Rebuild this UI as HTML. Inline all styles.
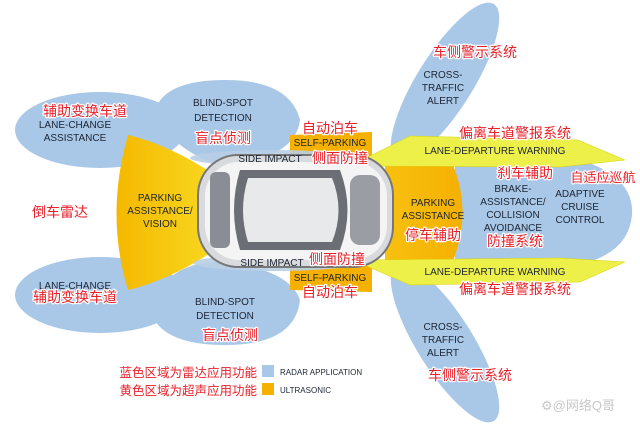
<!DOCTYPE html>
<html><head><meta charset="utf-8"><style>
body{margin:0;background:#fff}
svg{display:block}
.e{font-family:"Liberation Sans",sans-serif;font-size:10px;fill:#1c2433;text-anchor:middle}
.c{font-family:"Liberation Sans","Noto Sans CJK SC",sans-serif;font-size:14px;fill:#e8202a;text-anchor:middle;stroke:#fff;stroke-width:2.5px;paint-order:stroke;stroke-linejoin:round}
</style></head><body>
<svg width="640" height="427" viewBox="0 0 640 427">
<defs>
<linearGradient id="y" x1="0" x2="1"><stop offset="0" stop-color="#f5b800"/><stop offset="1" stop-color="#f8d820"/></linearGradient>
<linearGradient id="y2" x1="0" x2="1"><stop offset="0" stop-color="#f8c010"/><stop offset="1" stop-color="#f5b000"/></linearGradient>
</defs>
<g fill="#a9c8e8">
<ellipse cx="445" cy="82" rx="92" ry="28" transform="rotate(-58 445 82)"/>
<ellipse cx="445" cy="343" rx="92" ry="28" transform="rotate(58 445 343)"/>
<ellipse cx="100" cy="130" rx="85" ry="38"/>
<ellipse cx="100" cy="295" rx="85" ry="38"/>
<path d="M155 110 Q165 80 225 80 Q290 80 300 120 Q295 160 220 165 Q170 150 155 110Z"/>
<path d="M150 310 Q165 260 225 262 Q290 270 300 300 Q295 345 225 345 Q160 345 150 310Z"/>
<path d="M455 160 L560 155 Q635 170 632 215 Q628 260 560 268 L455 262Z"/>
</g>
<path d="M128 135 Q170 145 215 175 L215 250 Q170 280 128 290 Q105 215 128 135Z" fill="url(#y)"/>
<path d="M385 165 L450 158 Q475 212 450 268 L385 262Z" fill="url(#y2)"/>
<path d="M290 135 L372 132 L372 168 L290 165Z" fill="#f5b000"/>
<path d="M290 262 L372 258 L372 292 L290 290Z" fill="#f5b000"/>
<g fill="#eef04a" stroke="#d8d000" stroke-width="0.5">
<path d="M362 160 L410 136 L578 140 L625 160 L560 167 L362 166Z"/>
<path d="M362 264 L410 285 L580 282 L625 262 L560 258 L362 260Z"/>
</g>
<g fill="#b9cfe6" opacity="0.9">
<ellipse cx="272" cy="158" rx="82" ry="8"/>
<ellipse cx="275" cy="263" rx="82" ry="8"/>
</g>
<g>
<rect x="198" y="155" width="195" height="112" rx="40" fill="#d8dadd" stroke="#777" stroke-width="2"/>
<rect x="205" y="162" width="182" height="98" rx="34" fill="#f4f4f5"/>
<path d="M240 170 L340 170 Q355 210 340 250 L240 250 Q228 210 240 170Z" fill="#6b6f75"/>
<path d="M248 178 L332 178 Q345 210 332 242 L248 242 Q238 210 248 178Z" fill="#e8e9ea"/>
<rect x="210" y="172" width="20" height="76" rx="6" fill="#8a8e94"/>
<rect x="350" y="175" width="30" height="70" rx="10" fill="#9a9ea4"/>
</g>
<g class="e">
<text x="443" y="78">CROSS-</text><text x="443" y="91">TRAFFIC</text><text x="443" y="104">ALERT</text>
<text x="75" y="128">LANE-CHANGE</text><text x="75" y="141">ASSISTANCE</text>
<text x="223" y="106">BLIND-SPOT</text><text x="223" y="121">DETECTION</text>
<text x="330" y="146">SELF-PARKING</text>
<text x="270" y="162">SIDE IMPACT</text>
<text x="495" y="154">LANE-DEPARTURE WARNING</text>
<text x="513" y="192">BRAKE-</text><text x="513" y="205">ASSISTANCE/</text><text x="513" y="218">COLLISION</text><text x="513" y="231">AVOIDANCE</text>
<text x="580" y="197">ADAPTIVE</text><text x="580" y="210">CRUISE</text><text x="580" y="223">CONTROL</text>
<text x="433" y="206">PARKING</text><text x="433" y="219">ASSISTANCE</text>
<text x="160" y="201">PARKING</text><text x="160" y="214">ASSISTANCE/</text><text x="160" y="227">VISION</text>
<text x="272" y="266">SIDE IMPACT</text>
<text x="330" y="281">SELF-PARKING</text>
<text x="495" y="275">LANE-DEPARTURE WARNING</text>
<text x="75" y="289">LANE-CHANGE</text>
<text x="225" y="305">BLIND-SPOT</text><text x="225" y="319">DETECTION</text>
<text x="443" y="330">CROSS-</text><text x="443" y="343">TRAFFIC</text><text x="443" y="356">ALERT</text>
<text x="280" y="375" style="text-anchor:start;font-size:8px">RADAR APPLICATION</text>
<text x="280" y="393" style="text-anchor:start;font-size:8px">ULTRASONIC</text>
</g>
<g class="c">
<text x="475" y="57">车侧警示系统</text>
<text x="85" y="116">辅助变换车道</text>
<text x="223" y="143">盲点侦测</text>
<text x="330" y="133">自动泊车</text>
<text x="340" y="163">侧面防撞</text>
<text x="515" y="138">偏离车道警报系统</text>
<text x="525" y="178">刹车辅助</text>
<text x="603" y="182" style="font-size:13px">自适应巡航</text>
<text x="515" y="246">防撞系统</text>
<text x="433" y="240">停车辅助</text>
<text x="60" y="217">倒车雷达</text>
<text x="337" y="264">侧面防撞</text>
<text x="330" y="297">自动泊车</text>
<text x="515" y="294">偏离车道警报系统</text>
<text x="75" y="302">辅助变换车道</text>
<text x="230" y="340">盲点侦测</text>
<text x="470" y="380">车侧警示系统</text>
<text x="257" y="377" style="text-anchor:end;font-size:12.5px">蓝色区域为雷达应用功能</text>
<text x="257" y="395" style="text-anchor:end;font-size:12.5px">黄色区域为超声应用功能</text>
</g>
<rect x="262" y="365" width="12" height="12" fill="#a9c8e8"/>
<rect x="262" y="383" width="12" height="12" fill="#f5b000"/>
<text x="578" y="410" style="font-family:'Liberation Sans','Noto Sans CJK SC',sans-serif;font-size:13px;fill:#c8c8c8;text-anchor:middle">⚙@网络Q哥</text>
</svg>
</body></html>
